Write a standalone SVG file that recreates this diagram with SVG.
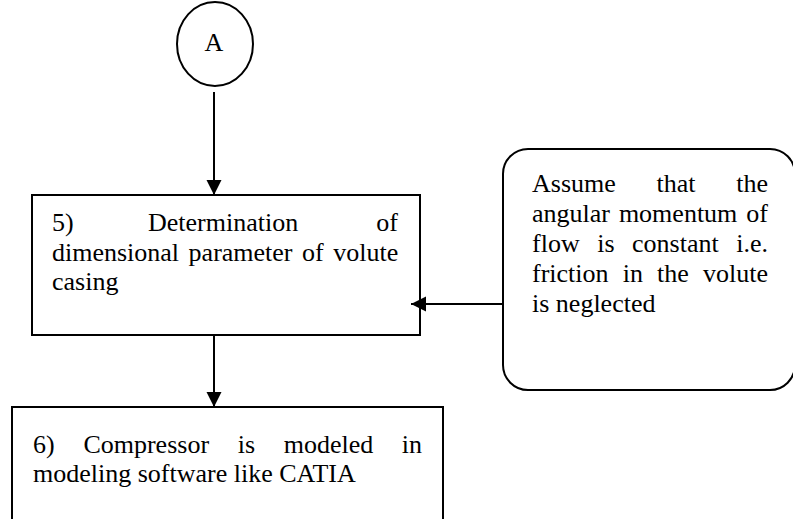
<svg xmlns="http://www.w3.org/2000/svg" width="793" height="519" viewBox="0 0 793 519">
<style>
.shape{fill:#fff;stroke:#000;stroke-width:2}
.t{font-family:"Liberation Serif","Times New Roman",serif;font-size:26px;fill:#000}
.conn{stroke:#000;stroke-width:2;fill:none}
</style>
<defs>
<marker id="ah" markerUnits="userSpaceOnUse" markerWidth="16" markerHeight="16" refX="15" refY="7.5" orient="auto">
<path d="M0,0 L15,7.5 L0,15 z" fill="#000"/>
</marker>
</defs>
<rect width="793" height="519" fill="#fff"/>
<g id="nodeA">
<ellipse class="shape" cx="215" cy="44" rx="38" ry="42"/>
<text class="t" x="214" y="51" text-anchor="middle">A</text>
</g>
<g id="node5">
<rect class="shape" x="32" y="195" width="388" height="140"/>
<text class="t" y="231"><tspan x="52">5)</tspan><tspan x="148">Determination</tspan><tspan x="376.3">of</tspan></text>
<text class="t" y="261"><tspan x="52">dimensional</tspan><tspan x="188.6">parameter</tspan><tspan x="302">of</tspan><tspan x="333.2">volute</tspan></text>
<text class="t" x="52" y="290">casing</text>
</g>
<g id="nodeAssume">
<rect class="shape" x="503" y="149" width="292" height="241" rx="25" ry="25"/>
<text class="t" y="192"><tspan x="532">Assume</tspan><tspan x="656.5">that</tspan><tspan x="736.2">the</tspan></text>
<text class="t" y="222"><tspan x="532">angular</tspan><tspan x="618.9">momentum</tspan><tspan x="746.3">of</tspan></text>
<text class="t" y="252"><tspan x="532">flow</tspan><tspan x="597.2">is</tspan><tspan x="632">constant</tspan><tspan x="736.2">i.e.</tspan></text>
<text class="t" y="282"><tspan x="532">friction</tspan><tspan x="622.7">in</tspan><tspan x="657.1">the</tspan><tspan x="703.1">volute</tspan></text>
<text class="t" x="532" y="312">is neglected</text>
</g>
<g id="node6">
<rect class="shape" x="12" y="407" width="431" height="130"/>
<text class="t" y="453"><tspan x="33">6)</tspan><tspan x="83.4">Compressor</tspan><tspan x="237.7">is</tspan><tspan x="283.7">modeled</tspan><tspan x="401.8">in</tspan></text>
<text class="t" x="33" y="482">modeling software like CATIA</text>
</g>
<g id="connectors">
<line class="conn" x1="214" y1="92" x2="214" y2="195" marker-end="url(#ah)"/>
<line class="conn" x1="214" y1="335" x2="214" y2="407" marker-end="url(#ah)"/>
<line class="conn" x1="503" y1="304" x2="411" y2="304" marker-end="url(#ah)"/>
</g>
</svg>
